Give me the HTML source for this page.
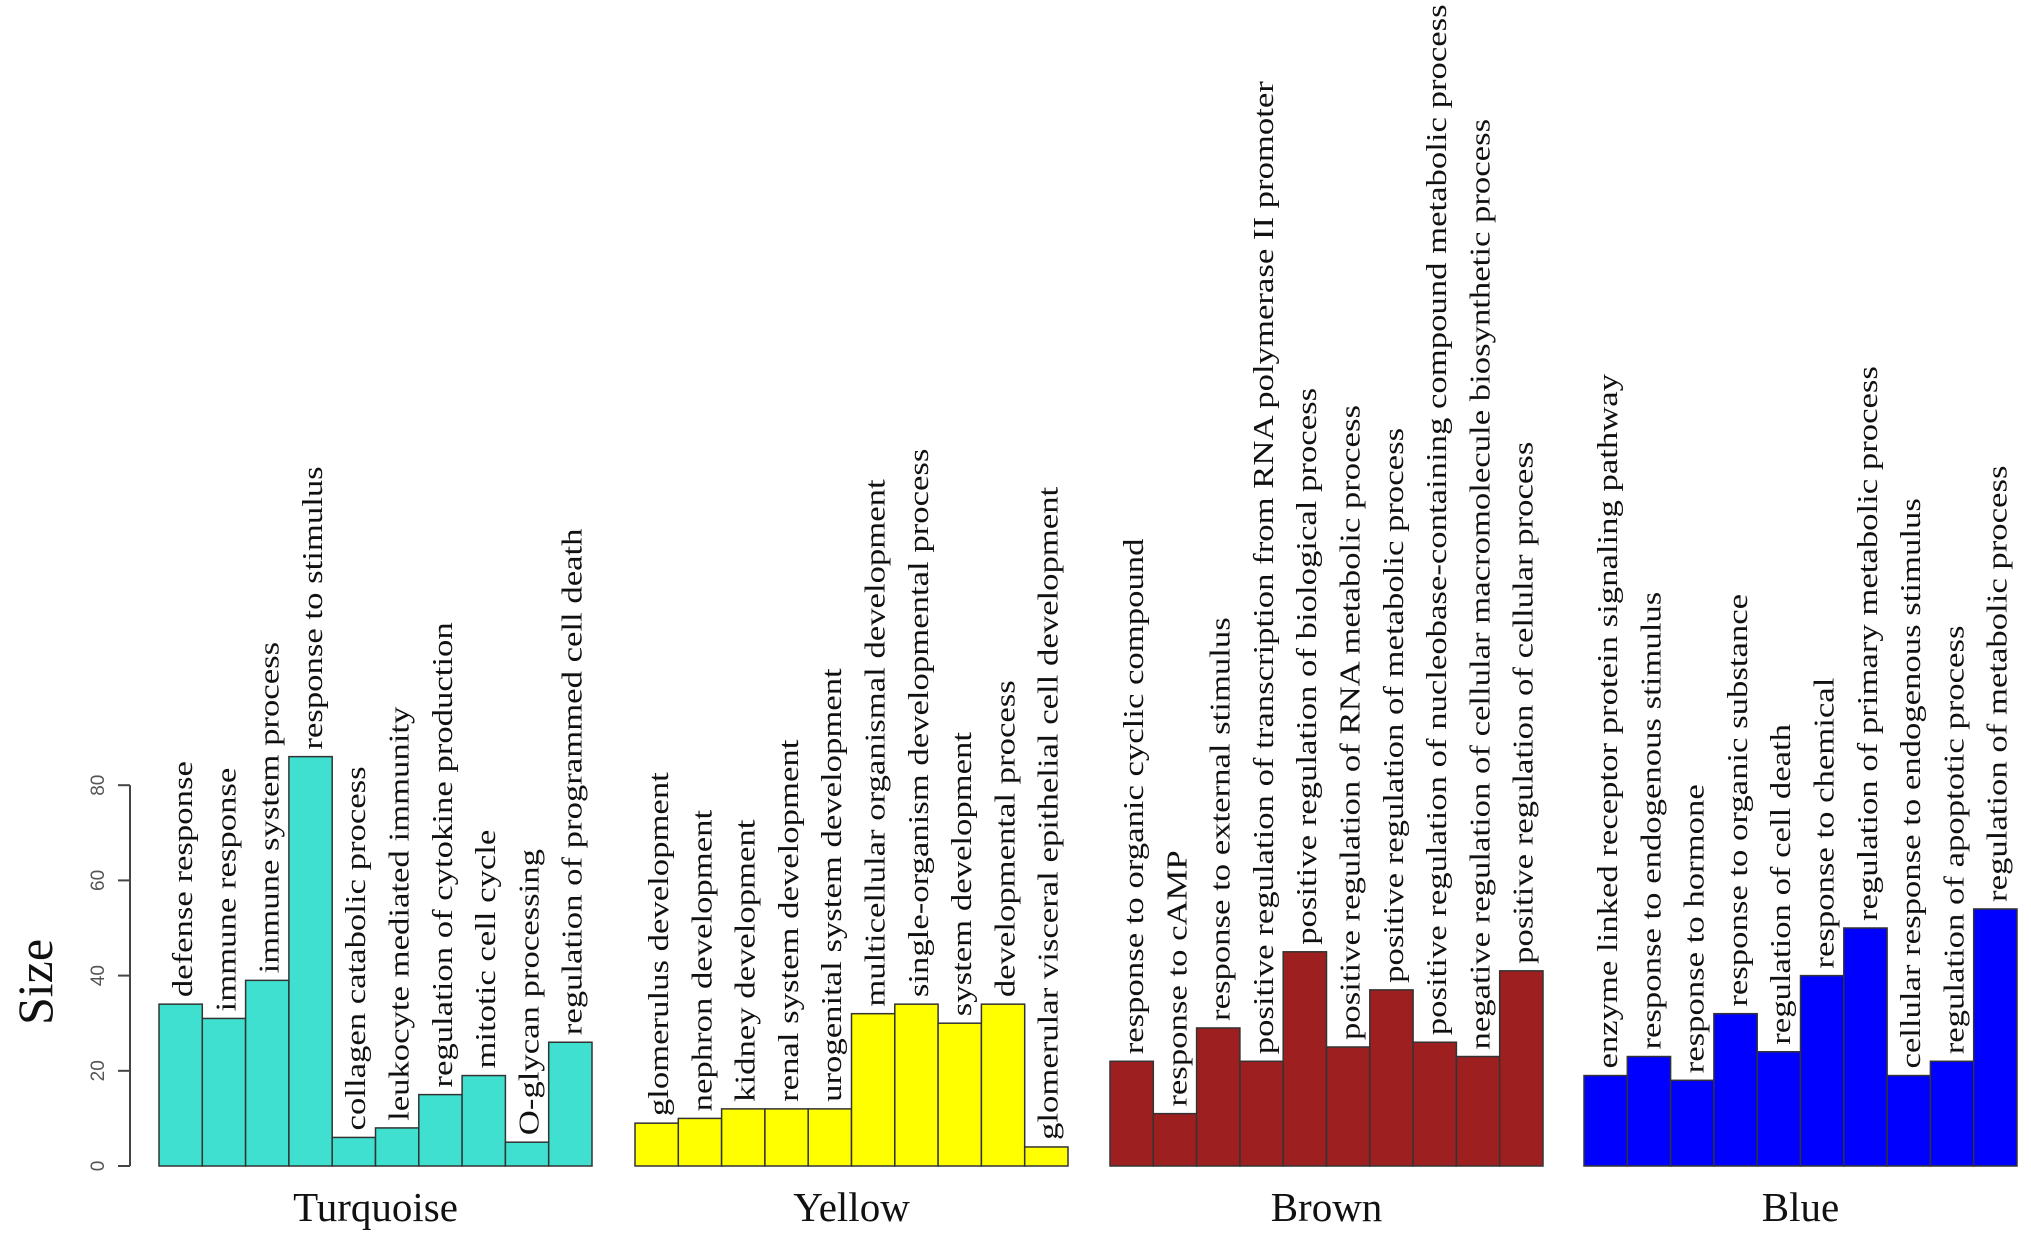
<!DOCTYPE html>
<html><head><meta charset="utf-8"><style>
html,body{margin:0;padding:0;background:#fff}
svg{display:block}
</style></head><body>
<svg id="chart" width="2031" height="1245" xmlns="http://www.w3.org/2000/svg" font-family="'Liberation Serif', serif"></svg>
<script>
const groupNames = ["Turquoise","Yellow","Brown","Blue"];
const groupColors = ["#40E0D0","#FFFF00","#9E1F1F","#0000FF"];
const turquoiseTerms = ["defense response","immune response","immune system process","response to stimulus","collagen catabolic process","leukocyte mediated immunity","regulation of cytokine production","mitotic cell cycle","O-glycan processing","regulation of programmed cell death"];
const turquoiseValues = [34,31,39,86,6,8,15,19,5,26];
const yellowTerms = ["glomerulus development","nephron development","kidney development","renal system development","urogenital system development","multicellular organismal development","single-organism developmental process","system development","developmental process","glomerular visceral epithelial cell development"];
const yellowValues = [9,10,12,12,12,32,34,30,34,4];
const brownTerms = ["response to organic cyclic compound","response to cAMP","response to external stimulus","positive regulation of transcription from RNA polymerase II promoter","positive regulation of biological process","positive regulation of RNA metabolic process","positive regulation of metabolic process","positive regulation of nucleobase-containing compound metabolic process","negative regulation of cellular macromolecule biosynthetic process","positive regulation of cellular process"];
const brownValues = [22,11,29,22,45,25,37,26,23,41];
const blueTerms = ["enzyme linked receptor protein signaling pathway","response to endogenous stimulus","response to hormone","response to organic substance","regulation of cell death","response to chemical","regulation of primary metabolic process","cellular response to endogenous stimulus","regulation of apoptotic process","regulation of metabolic process"];
const blueValues = [19,23,18,32,24,40,50,19,22,54];
const yTicks = [0,20,40,60,80];

const svg = document.getElementById('chart');
const NS = "http://www.w3.org/2000/svg";
const y0 = 1166, pxPerUnit = 4.76;
function yScale(v){ return y0 - v*pxPerUnit; }
const groupLeft = [159,635,1110,1584], groupWidth = 433;
function mk(tag, attrs){ const e=document.createElementNS(NS,tag); for(const k in attrs) e.setAttribute(k,attrs[k]); svg.appendChild(e); return e; }

const axis = mk('line',{x1:130,x2:130,y1:yScale(0),y2:yScale(80),stroke:'#444','stroke-width':2});


yTicks.forEach(t=>{
  const tk = mk('line',{x1:118,x2:130,y1:yScale(t),y2:yScale(t),stroke:'#444','stroke-width':2});
  
  
  const tl = mk('text',{x:0,y:0,transform:`translate(104,${yScale(t)}) rotate(-90)`,'text-anchor':'middle','font-family':"'Liberation Sans', sans-serif",'font-size':19,fill:'#555'});
  tl.textContent = t;
  
  
});
const yt = mk('text',{x:0,y:0,transform:'translate(52,982) rotate(-90)','text-anchor':'middle','font-size':50,fill:'#111'});
yt.textContent='Size';



const allTerms=[turquoiseTerms,yellowTerms,brownTerms,blueTerms];
const allValues=[turquoiseValues,yellowValues,brownValues,blueValues];
allValues.forEach((vals,g)=>{
  const bw = groupWidth/vals.length;
  vals.forEach((v,i)=>{
    const x = groupLeft[g]+i*bw;
    const r = mk('rect',{x:x,y:yScale(v),width:bw,height:yScale(0)-yScale(v),fill:groupColors[g],stroke:'#333','stroke-width':1.5});
    
    
    const t = mk('text',{x:0,y:0,transform:`translate(${x+bw/2+2},${yScale(v)-7}) rotate(-90) scale(1.24,1)`,'dominant-baseline':'central','font-size':28,fill:'#111'});
    t.textContent = allTerms[g][i];
    
    
  });
  const gl = mk('text',{x:groupLeft[g]+groupWidth/2,y:1221,'text-anchor':'middle','font-size':41,fill:'#111'});
  gl.textContent = groupNames[g];
  
  
});
</script>
</body></html>
